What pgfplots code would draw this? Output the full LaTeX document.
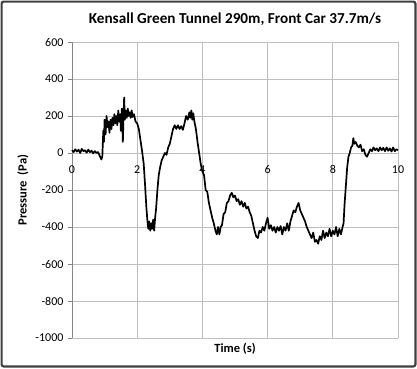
\documentclass[border=0pt]{standalone}
\usepackage{fontspec}
\setmainfont{Carlito}
\usepackage{pgfplots}
\pgfplotsset{compat=1.18}
\definecolor{gridgray}{RGB}{190,190,190}
\definecolor{axgray}{RGB}{134,134,134}
\definecolor{framegray}{RGB}{64,64,64}
\begin{document}
\begin{tikzpicture}
\useasboundingbox (0pt,0pt) rectangle (417pt,368pt);
\draw[line width=2.2pt, color=framegray, rounded corners=2pt] (1.6pt,1.6pt) rectangle (415.4pt,366.4pt);
\begin{axis}[
  at={(72pt,30pt)}, anchor=south west,
  scale only axis, width=326pt, height=296pt,
  xmin=0, xmax=10, ymin=-1000, ymax=600,
  xtick={0,2,...,10}, ytick={-1000,-800,...,600},
  axis x line=bottom, axis y line=left,
  axis line style={-, draw=gridgray, line width=0.8pt},
  y axis line style={draw=axgray},
  grid=major, grid style={gridgray, line width=0.8pt},
  tick align=outside, major tick length=4pt,
  ytick style={draw=axgray, line width=0.8pt},
  xtick style={draw=none},
  /pgf/number format/assume math mode=true,
  /pgf/number format/1000 sep={},
  tick label style={font=\fontsize{12}{14}\selectfont, text=black},
  xticklabel style={anchor=north, yshift=180pt},
  yticklabel style={anchor=east, xshift=-1pt},
  title={\textbf{Kensall Green Tunnel 290m, Front Car 37.7m/s}},
  title style={font=\fontsize{15.2}{18}\selectfont, at={(0.5,1)}, anchor=base, yshift=12.5pt},
  xlabel={\textbf{Time (s)}},
  xlabel style={font=\fontsize{12.5}{14}\selectfont, at={(0.5,0)}, anchor=base, yshift=-14pt},
  ylabel={\textbf{Pressure\ \ (Pa)}},
  ylabel style={font=\fontsize{12.5}{14}\selectfont, at={(rel axis cs:-0.1503,0.5)}, anchor=center},
  clip=false,
]
\addplot[black, line width=1.7pt, line join=round] coordinates {
(0.00,15)(0.05,5)(0.10,20)(0.15,8)(0.20,18)(0.25,0)(0.30,22)(0.35,10)(0.40,15)(0.45,2)
(0.50,18)(0.55,5)(0.60,12)(0.65,-2)(0.70,10)(0.75,0)(0.80,5)(0.85,-15)(0.90,-35)(0.93,-20)
(0.96,120)(0.98,60)(1.00,180)(1.03,100)(1.06,200)(1.09,140)(1.12,170)(1.15,110)(1.18,180)(1.21,130)
(1.24,190)(1.27,150)(1.30,210)(1.33,160)(1.36,200)(1.39,150)(1.42,230)(1.45,170)(1.48,210)(1.50,120)
(1.53,240)(1.56,60)(1.58,200)(1.60,300)(1.62,180)(1.65,230)(1.68,190)(1.71,240)(1.74,200)(1.77,220)
(1.80,190)(1.83,230)(1.86,195)(1.90,210)(1.95,170)(2.00,160)(2.05,130)(2.10,70)(2.15,10)(2.20,-60)
(2.24,-170)(2.28,-290)(2.31,-360)(2.34,-410)(2.37,-370)(2.40,-420)(2.43,-380)(2.46,-410)(2.49,-360)(2.52,-420)
(2.55,-350)(2.58,-300)(2.62,-200)(2.66,-120)(2.70,-80)(2.75,-40)(2.80,-20)(2.85,0)(2.90,-10)(2.95,30)
(3.00,50)(3.05,90)(3.10,130)(3.15,150)(3.20,130)(3.25,150)(3.30,130)(3.35,145)(3.40,125)(3.45,160)
(3.50,200)(3.55,180)(3.60,220)(3.63,190)(3.66,230)(3.69,180)(3.72,215)(3.75,175)(3.80,130)(3.85,60)
(3.90,0)(3.95,-60)(4.00,-100)(4.05,-120)(4.10,-200)(4.15,-210)(4.20,-270)(4.25,-310)(4.30,-350)(4.35,-380)
(4.40,-420)(4.44,-440)(4.48,-400)(4.52,-440)(4.56,-400)(4.60,-390)(4.65,-330)(4.70,-320)(4.75,-270)(4.80,-260)
(4.85,-230)(4.90,-215)(4.95,-240)(5.00,-230)(5.05,-260)(5.10,-250)(5.15,-280)(5.20,-260)(5.25,-290)(5.30,-270)
(5.35,-300)(5.40,-290)(5.45,-320)(5.50,-340)(5.55,-380)(5.60,-420)(5.65,-450)(5.70,-460)(5.75,-420)(5.80,-430)
(5.85,-400)(5.90,-420)(5.95,-380)(6.00,-350)(6.05,-410)(6.10,-390)(6.15,-420)(6.20,-400)(6.25,-430)(6.30,-400)
(6.35,-420)(6.40,-395)(6.45,-440)(6.50,-400)(6.55,-420)(6.60,-380)(6.65,-420)(6.70,-370)(6.75,-340)(6.80,-310)
(6.85,-320)(6.90,-290)(6.95,-270)(7.00,-310)(7.05,-330)(7.10,-350)(7.15,-370)(7.20,-400)(7.25,-420)(7.30,-440)
(7.35,-460)(7.40,-430)(7.45,-480)(7.50,-470)(7.55,-490)(7.60,-450)(7.65,-470)(7.70,-420)(7.75,-460)(7.80,-430)
(7.85,-450)(7.90,-410)(7.95,-450)(8.00,-420)(8.05,-440)(8.10,-400)(8.15,-450)(8.20,-410)(8.25,-440)(8.30,-400)
(8.33,-380)(8.36,-280)(8.40,-180)(8.44,-80)(8.48,-20)(8.52,0)(8.56,30)(8.60,40)(8.63,80)(8.66,50)
(8.70,60)(8.75,40)(8.80,30)(8.85,45)(8.90,10)(8.95,20)(9.00,-10)(9.05,-20)(9.10,0)(9.15,20)
(9.20,10)(9.25,30)(9.30,15)(9.35,25)(9.40,10)(9.45,30)(9.50,15)(9.55,28)(9.60,10)(9.65,30)
(9.70,12)(9.75,25)(9.80,8)(9.85,30)(9.90,10)(9.95,20)(10.00,15)
};
\end{axis}
\end{tikzpicture}
\end{document}
